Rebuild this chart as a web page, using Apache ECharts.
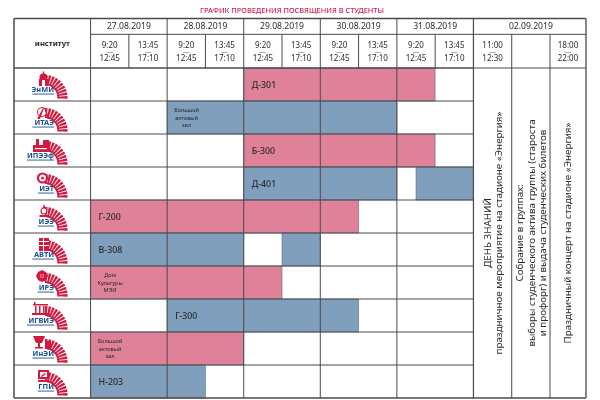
<!DOCTYPE html>
<html>
<head>
<meta charset="utf-8">
<script src="https://cdn.jsdelivr.net/npm/echarts@6/dist/echarts.min.js"></script>
<style>
  html, body { margin: 0; padding: 0; background: #fff; }
  #chart { width: 600px; height: 400px; }
</style>
</head>
<body>
<div id="chart"></div>
<script>
const titleText = "ГРАФИК ПРОВЕДЕНИЯ ПОСВЯЩЕНИЯ В СТУДЕНТЫ";
const institutes = ["ЭнМИ", "ИТАЭ", "ИПЭЭф", "ИЭТ", "ИЭЭ", "АВТИ", "ИРЭ", "ИГВИЭ", "ИнЭИ", "ГПИ"];
const days = ["27.08.2019", "28.08.2019", "29.08.2019", "30.08.2019", "31.08.2019"];
const lastDay = "02.09.2019";
const slotStart = ["9:20", "13:45"];
const slotEnd = ["12:45", "17:10"];
const lastStart = ["11:00", "", "18:00"];
const lastEnd = ["12:30", "", "22:00"];

// one booking = row, first slot, last slot (half days counted from 27.08)
const bookingRow = [0, 1, 2, 3, 3, 4, 5, 5, 6, 7, 8, 9];
const bookingFrom = [4, 2, 4, 4, 8.5, 0, 0, 5, 0, 2, 0, 0];
const bookingTo = [9, 8, 9, 8, 10, 7, 4, 6, 5, 7, 4, 3];
const bookingKind = ["p", "b", "p", "b", "b", "p", "b", "b", "p", "b", "p", "b"];
const bookingRoom = ["Д-301", "Большой\nактовый\nзал", "Б-300", "Д-401", "", "Г-200", "В-308", "", "Дом\nКультуры\nМЭИ", "Г-300", "Большой\nактовый\nзал", "Н-203"];

const lastColumnText = [
  ["ДЕНЬ ЗНАНИЙ", "праздничное мероприятие на стадионе «Энергия»"],
  ["Собрание в группах:", "выборы студенческого актива группы (староста", "и профорг) и выдача студенческих билетов"],
  ["Праздничный концерт на стадионе «Энергия»"]
];

const PINK = "#e0819a", BLUE = "#7f9fbd", RED = "#d2193f", NAVY = "#1c4f92";
const LINE = "#4a4a4a", TEXT = "#2b2b2b";
const FONT = "'Noto Sans', 'Open Sans', sans-serif";
const X_MIN = -2, X_MAX = 12.94, Y_MIN = -1.5, Y_MAX = 10, DATE_Y = -1.02;

// little pictures above the labels, units are px from the cell corner
const rect = (x, y, w, h, fill) => ({ type: "rect", shape: { x, y, width: w, height: h }, style: { fill: fill || RED } });
const circ = (x, y, r, fill) => ({ type: "circle", shape: { cx: x, cy: y, r }, style: { fill: fill || RED } });
const ring = (x, y, r, w) => ({ type: "circle", shape: { cx: x, cy: y, r }, style: { fill: "#fff", stroke: RED, lineWidth: w || 1.5 } });
const poly = (points, fill) => ({ type: "polygon", shape: { points }, style: { fill: fill || RED } });
const logoIcons = [
  [rect(25, 11, 9, 7), circ(29.5, 9.5, 4), rect(28.8, 3.5, 1.4, 3), rect(28, 12, 3, 6, "#fff")],
  [ring(28, 11, 4.5, 1), poly([[23, 18], [29, 7], [30, 7], [26, 18]]), poly([[34, 18], [30, 7], [31, 7], [36, 18]])],
  [rect(19, 11, 17, 7), rect(22, 5, 3, 7), rect(29, 6, 6, 6), rect(21, 14, 12, 1.2, "#fff")],
  [ring(28.5, 11, 4.5, 2.2), circ(28.5, 11, 1.5)],
  [poly([[30, 4], [33, 12], [27, 12]]), ring(30, 11, 3, 1.2), rect(25.5, 15, 9, 2)],
  [rect(25, 5, 10, 13), rect(25, 8, 10, 1, "#fff"), rect(25, 12, 10, 1, "#fff"), rect(29, 5, 1, 13, "#fff")],
  [circ(28, 10, 5.5), circ(28, 10, 2, "#fff"), rect(22, 9.4, 12, 1.2), rect(27.4, 4, 1.2, 12)],
  [rect(18, 14, 18, 2), rect(21, 7, 1.5, 7), rect(25, 7, 1.5, 7), rect(29, 7, 1.5, 7), rect(19, 5, 15, 1.5), rect(20, 3, 1.5, 3)],
  [poly([[19, 4], [31, 4], [28, 11], [22, 11]]), rect(24, 11, 2, 4), rect(21, 15, 8, 1.5), rect(31, 9, 6, 8)],
  [rect(24, 5, 11, 9), rect(26, 7, 7, 5, "#fff"), rect(24, 15, 11, 2), poly([[27, 11], [31, 8], [32, 9], [28, 12]])]
];

function logoFan() {
  const parts = [];
  const count = 10, from = -90, to = 6, step = (to - from) / count;
  for (let i = 0; i < count; i++) {
    const a = (from + i * step) * Math.PI / 180;
    const b = (from + (i + 0.7) * step) * Math.PI / 180;
    parts.push({
      type: "sector",
      shape: { cx: 31, cy: 29.5, r0: 12.5, r: 22.5, startAngle: a, endAngle: b },
      style: { fill: RED }
    });
  }
  parts.push({ type: "sector", shape: { cx: 31, cy: 29.5, r0: 12.5, r: 14.2, startAngle: -90 * Math.PI / 180, endAngle: 4 * Math.PI / 180 }, style: { fill: RED } });
  return parts;
}

function drawBooking(params, api) {
  const i = params.dataIndex;
  const a = api.coord([api.value(1), api.value(0)]);
  const b = api.coord([api.value(2), api.value(0) + 1]);
  const room = bookingRoom[i];
  const small = room.indexOf("\n") >= 0;
  const children = [{
    type: "rect",
    shape: { x: a[0], y: a[1], width: b[0] - a[0], height: b[1] - a[1] },
    style: { fill: bookingKind[i] === "p" ? PINK : BLUE, stroke: "#5f6f85", lineWidth: 0.6 }
  }];
  if (room) {
    children.push({
      type: "text",
      x: small ? a[0] + 19.5 : a[0] + 8,
      y: (a[1] + b[1]) / 2 + 0.5,
      style: {
        text: room,
        font: small ? "5.6px " + FONT : "500 8.8px " + FONT,
        fill: TEXT,
        align: small ? "center" : "left",
        verticalAlign: "middle",
        lineHeight: 7.6
      }
    });
  }
  return { type: "group", children };
}

function drawLogo(params, api) {
  const i = params.dataIndex;
  const p = api.coord([X_MIN, i]);
  const name = institutes[i];
  const w = name.length * 5.4;
  return {
    type: "group",
    x: p[0],
    y: p[1],
    children: logoFan().concat(logoIcons[i], [
      {
        type: "text",
        x: 40,
        y: 22.2,
        style: { text: name, font: "bold 7.4px " + FONT, fill: NAVY, align: "right", verticalAlign: "middle" }
      },
      { type: "rect", shape: { x: 40 - w, y: 25.6, width: w, height: 0.9 }, style: { fill: NAVY } }
    ])
  };
}

// table rules: x1, y1, x2, y2, width
const rules = [];
for (let y = 0; y < Y_MAX; y++) rules.push([X_MIN, y, 10, y, 1]);
rules.push([0, DATE_Y, X_MAX, DATE_Y, 1]);
rules.push([X_MIN, 0, X_MAX, 0, 1]);
[0, 2, 4, 6, 8].forEach(x => rules.push([x, Y_MIN, x, Y_MAX, 1]));
[1, 3, 5, 7, 9].forEach(x => rules.push([x, DATE_Y, x, 0, 1]));
rules.push([10, Y_MIN, 10, Y_MAX, 1.2]);
[11, 12].forEach(x => rules.push([x, DATE_Y, x, Y_MAX, 1]));
rules.push([X_MIN, Y_MIN, X_MAX, Y_MIN, 1.3]);
rules.push([X_MIN, Y_MAX, X_MAX, Y_MAX, 1.3]);
rules.push([X_MIN, Y_MIN, X_MIN, Y_MAX, 1.5]);
rules.push([X_MAX, Y_MIN, X_MAX, Y_MAX, 1.3]);

function drawRule(params, api) {
  const a = api.coord([api.value(0), api.value(1)]);
  const b = api.coord([api.value(2), api.value(3)]);
  return {
    type: "line",
    shape: { x1: a[0], y1: a[1], x2: b[0], y2: b[1] },
    style: { stroke: LINE, lineWidth: api.value(4) }
  };
}

// header and side texts: x, y, text, font, rotated, colour
const labels = [];
labels.push([-1, -0.73, "институт", "bold 7.6px " + FONT, false, TEXT]);
days.forEach((d, i) => labels.push([i * 2 + 1, -1.25, d, "8.6px " + FONT, false, TEXT]));
labels.push([11.5, -1.25, lastDay, "8.6px " + FONT, false, TEXT]);
function addTime(x, from, to) {
  if (!from) return;
  labels.push([x, -0.69, from, "8px " + FONT, false, TEXT]);
  labels.push([x, -0.5, "—", "7px " + FONT, false, "#777"]);
  labels.push([x, -0.28, to, "8px " + FONT, false, TEXT]);
}
for (let s = 0; s < 10; s++) addTime(s + 0.5, slotStart[s % 2], slotEnd[s % 2]);
lastStart.forEach((t, i) => addTime(10.5 + i - (i === 2 ? 0.03 : 0), t, lastEnd[i]));
lastColumnText.forEach((lines, c) => {
  lines.forEach((line, k) => {
    const x = 10.53 + c + (k - (lines.length - 1) / 2) * 0.305 + (c === 2 ? -0.06 : 0);
    labels.push([x, 5, line, "9.8px " + FONT, true, TEXT]);
  });
});

function drawLabel(params, api) {
  const l = labels[params.dataIndex];
  const p = api.coord([l[0], l[1]]);
  return {
    type: "text",
    x: p[0],
    y: p[1],
    rotation: l[4] ? Math.PI / 2 : 0,
    style: { text: l[2], font: l[3], fill: l[5], align: "center", verticalAlign: "middle" }
  };
}

const chart = echarts.init(document.getElementById("chart"));
chart.setOption({
  animation: false,
  backgroundColor: "#fff",
  title: {
    text: titleText,
    left: 287,
    top: 2,
    textAlign: "center",
    textStyle: { color: "#d6214f", fontSize: 7.4, fontWeight: 500, fontFamily: "Noto Sans" }
  },
  grid: { left: 14, top: 18.5, width: 572, height: 379.5 },
  xAxis: { type: "value", min: X_MIN, max: X_MAX, show: false },
  yAxis: { type: "value", min: Y_MIN, max: Y_MAX, inverse: true, show: false },
  series: [
    {
      type: "custom",
      z: 2,
      silent: true,
      clip: false,
      renderItem: drawBooking,
      data: bookingRow.map((r, i) => [r, bookingFrom[i], bookingTo[i]])
    },
    {
      type: "custom",
      z: 2,
      silent: true,
      clip: false,
      renderItem: drawLogo,
      data: institutes.map((n, i) => [X_MIN, i])
    },
    {
      type: "custom",
      z: 3,
      silent: true,
      clip: false,
      renderItem: drawRule,
      data: rules
    },
    {
      type: "custom",
      z: 4,
      silent: true,
      clip: false,
      renderItem: drawLabel,
      data: labels.map(l => [l[0], l[1]])
    }
  ]
});
</script>
</body>
</html>
